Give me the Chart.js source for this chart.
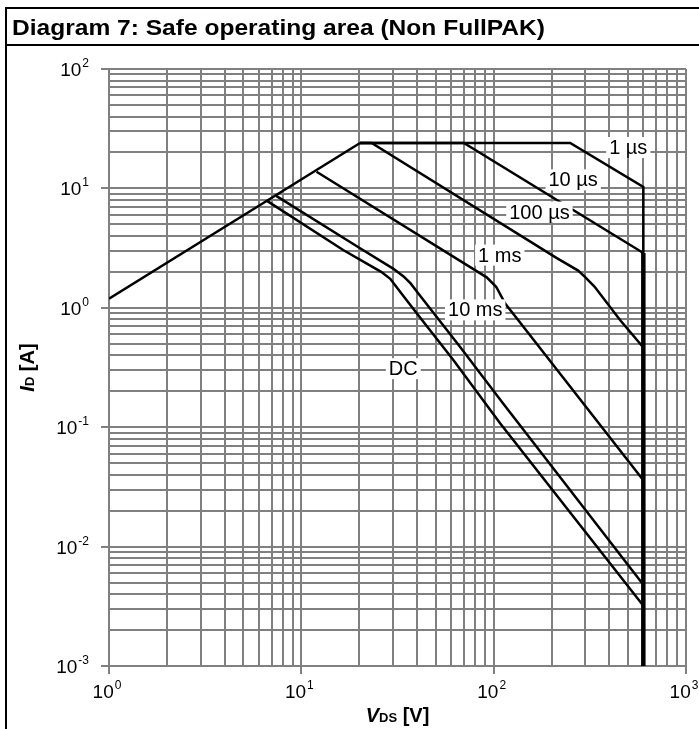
<!DOCTYPE html>
<html><head><meta charset="utf-8">
<script src="https://cdn.jsdelivr.net/npm/chart.js@4.4.1/dist/chart.umd.min.js"></script>
<style>
html,body{margin:0;padding:0;background:#fff;}
canvas{display:block;}
</style></head><body>
<canvas id="c" width="699" height="729"></canvas>
<script>
// ---- chart text ----
const chartTitle = 'Diagram 7: Safe operating area (Non FullPAK)';
// ---- axes / tick labels (exponents of 10) ----
const xDecades = [0, 1, 2, 3];
const yDecades = [-3, -2, -1, 0, 1, 2];
const minorSteps = [1, 2, 3, 4, 5, 6, 7, 8, 9];
// ---- series (V_DS in V, I_D in A) ----
const rdsV = [1, 20.2];
const rdsI = [1.19, 24];
const us1V = [20.2, 250, 600, 600];
const us1I = [24, 24, 10.3, 0.001];
const us10V = [20.2, 70, 600];
const us10I = [24, 24, 2.88];
const us100V = [20.2, 23.2, 212, 275, 300, 335, 454, 600];
const us100I = [24, 24, 2.62, 2.05, 1.8, 1.5, 0.79, 0.465];
const ms1V = [12.0, 80, 92, 103, 115, 134, 600];
const ms1I = [13.8, 2.07, 1.8, 1.5, 1.08, 0.79, 0.036];
const ms10V = [7.4, 20.2, 30, 34, 37, 40.6, 66.8, 112, 600];
const ms10I = [8.65, 3.15, 2.13, 1.83, 1.6, 1.32, 0.472, 0.158, 0.0048];
const dcV = [6.6, 16.5, 26, 29, 33, 39.8, 61.7, 108, 600];
const dcI = [7.9, 3.05, 2.0, 1.75, 1.33, 0.9, 0.366, 0.108, 0.0032];
const limitV = [600, 600];
const limitI = [2.88, 0.001];
// ---- curve labels ----
const labelText = ['1 µs', '10 µs', '100 µs', '1 ms', '10 ms', 'DC'];
const labelV = [501, 259, 173, 107.6, 80.2, 33.9];
const labelI = [22.2, 11.9, 6.4, 2.79, 0.97, 0.312];

const pts = (xs, ys) => xs.map((x, i) => ({x: x, y: ys[i]}));
const isDecade = v => Math.abs(Math.log10(v) - Math.round(Math.log10(v))) < 1e-9;
function buildTicks(decs) {
  const t = [];
  for (let i = 0; i < decs.length - 1; i++) {
    minorSteps.forEach(m => t.push({value: m * Math.pow(10, decs[i])}));
  }
  t.push({value: Math.pow(10, decs[decs.length - 1])});
  return t;
}
const FONT = '"Liberation Sans", Arial, sans-serif';
const GRID = '#808080';

const mk = (label, xs, ys, w) => ({
  label: label, data: pts(xs, ys), borderColor: '#000', backgroundColor: '#000',
  borderWidth: w || 2.5, pointRadius: 0, tension: 0, fill: false, showLine: true
});

function drawPow(ctx, x, y, exp, align) {
  const base = '10', sup = String(exp);
  ctx.font = '19px ' + FONT;
  const wb = ctx.measureText(base).width;
  ctx.font = '12px ' + FONT;
  const ws = ctx.measureText(sup).width;
  const total = wb + ws + 1;
  let x0 = align === 'right' ? x - total : x - total / 2;
  ctx.fillStyle = '#000';
  ctx.textBaseline = 'alphabetic';
  ctx.textAlign = 'left';
  ctx.font = '19px ' + FONT;
  ctx.fillText(base, x0, y);
  ctx.font = '12px ' + FONT;
  ctx.fillText(sup, x0 + wb + 1, y - 9);
}

const decor = {
  id: 'decor',
  beforeDraw(chart) {
    const ctx = chart.ctx;
    ctx.save();
    ctx.fillStyle = '#fff';
    ctx.fillRect(0, 0, chart.width, chart.height);
    ctx.strokeStyle = '#000';
    ctx.lineWidth = 2;
    ctx.beginPath();
    ctx.moveTo(6, 729); ctx.lineTo(6, 8); ctx.lineTo(699, 8);
    ctx.moveTo(6, 45); ctx.lineTo(699, 45);
    ctx.stroke();
    ctx.fillStyle = '#000';
    ctx.font = 'bold 22px ' + FONT;
    ctx.textAlign = 'left';
    ctx.textBaseline = 'alphabetic';
    const w = ctx.measureText(chartTitle).width;
    const sx = 533 / w;
    ctx.translate(12, 35);
    ctx.scale(sx, 1);
    ctx.fillText(chartTitle, 0, 0);
    ctx.restore();
  },
  afterDatasetsDraw(chart) {
    const ctx = chart.ctx, xs = chart.scales.x, ys = chart.scales.y;
    ctx.save();
    ctx.font = '20px ' + FONT;
    ctx.textBaseline = 'alphabetic';
    ctx.textAlign = 'center';
    labelText.forEach((t, i) => {
      const px = xs.getPixelForValue(labelV[i]);
      const py = ys.getPixelForValue(labelI[i]);
      const w = ctx.measureText(t).width;
      ctx.fillStyle = '#fff';
      ctx.fillRect(px - w / 2 - 3, py - 10, w + 6, 21);
      ctx.fillStyle = '#000';
      ctx.fillText(t, px, py + 7);
    });
    // tick labels
    xDecades.forEach(d => {
      const px = xs.getPixelForValue(Math.pow(10, d));
      drawPow(ctx, px - 2, xs.bottom + 24, d, 'center');
    });
    yDecades.forEach(d => {
      const py = ys.getPixelForValue(Math.pow(10, d));
      drawPow(ctx, 89, py + 7, d, 'right');
    });
    // axis titles
    ctx.fillStyle = '#000';
    ctx.textAlign = 'left';
    const parts = [['bold italic 20px ', 'V'], ['bold 13px ', 'DS'], ['bold 20px ', ' [V]']];
    let tw = 0;
    parts.forEach(p => { ctx.font = p[0] + FONT; tw += ctx.measureText(p[1]).width; });
    let x0 = (xs.left + xs.right) / 2 - tw / 2;
    parts.forEach(p => { ctx.font = p[0] + FONT; ctx.fillText(p[1], x0, 722); x0 += ctx.measureText(p[1]).width; });
    const yparts = [['bold italic 20px ', 'I'], ['bold 13px ', 'D'], ['bold 20px ', ' [A]']];
    tw = 0;
    yparts.forEach(p => { ctx.font = p[0] + FONT; tw += ctx.measureText(p[1]).width; });
    ctx.translate(34, (ys.top + ys.bottom) / 2);
    ctx.rotate(-Math.PI / 2);
    let y0 = -tw / 2;
    yparts.forEach(p => { ctx.font = p[0] + FONT; ctx.fillText(p[1], y0, 0); y0 += ctx.measureText(p[1]).width; });
    ctx.restore();
  }
};

const gridOpts = {
  color: GRID, lineWidth: 2, tickLength: 8, drawTicks: true,
  tickColor: c => (c.tick && isDecade(c.tick.value)) ? GRID : 'rgba(0,0,0,0)',
  tickWidth: 2
};

new Chart(document.getElementById('c'), {
  type: 'scatter',
  data: {
    datasets: [
      mk('RDS(on)', rdsV, rdsI),
      mk('1 µs', us1V, us1I),
      mk('10 µs', us10V, us10I),
      mk('100 µs', us100V, us100I),
      mk('1 ms', ms1V, ms1I),
      mk('10 ms', ms10V, ms10I),
      mk('DC', dcV, dcI),
      mk('V(BR)DSS', limitV, limitI, 4.5)
    ]
  },
  options: {
    responsive: false, animation: false, devicePixelRatio: 1,
    layout: {padding: {left: 101, right: 13, top: 69, bottom: 55}},
    plugins: {legend: {display: false}, title: {display: false}, tooltip: {enabled: false}},
    scales: {
      x: {
        type: 'logarithmic', position: 'bottom', min: 1, max: 1000,
        afterBuildTicks: s => { s.ticks = buildTicks(xDecades); },
        ticks: {display: false},
        grid: gridOpts,
        border: {display: true, color: GRID, width: 2}
      },
      y: {
        type: 'logarithmic', position: 'left', min: 0.001, max: 100,
        afterBuildTicks: s => { s.ticks = buildTicks(yDecades); },
        ticks: {display: false},
        grid: gridOpts,
        border: {display: true, color: GRID, width: 2}
      }
    }
  },
  plugins: [decor]
});
</script>
</body></html>
